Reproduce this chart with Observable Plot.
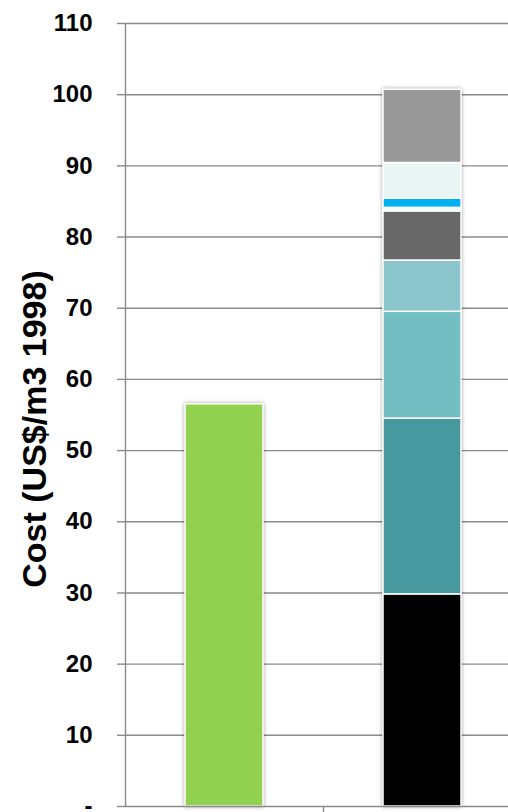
<!DOCTYPE html>
<html>
<head>
<meta charset="utf-8">
<script src="https://cdn.jsdelivr.net/npm/d3@7"></script>
<script src="https://cdn.jsdelivr.net/npm/@observablehq/plot@0.6"></script>
<style>
  html, body { margin: 0; padding: 0; background: #fff; }
  #chart svg { display: block; }
  #chart g[aria-label="bar"] { filter: drop-shadow(0px 0px 2px rgba(0,0,0,0.35)); }
</style>
</head>
<body>
<div id="chart"></div>
<script>
// Categories (unlabelled in the reference)
const categories = ["Option 1", "Option 2"];

// Option 1: single bar
const option1Value = 56.5;

// Option 2: stacked components, bottom to top
const components = ["Component 1", "Component 2", "Component 3", "Component 4", "Component 5", "Component 6", "Component 7", "Component 8", "Component 9"];
const componentValues = [29.8, 24.7, 15.0, 7.2, 6.9, 0.5, 1.3, 5.0, 10.3];
const componentColors = ["#000000", "#47999f", "#72bec3", "#8cc6cd", "#686868", "#f2fafb", "#00b0f0", "#e9f4f5", "#999999"];
const option1Color = "#92d050";

const yTicks = [0, 10, 20, 30, 40, 50, 60, 70, 80, 90, 100, 110];
const yLabel = "Cost (US$/m3 1998)";

const rows = [{cat: categories[0], comp: "Total", value: option1Value, color: option1Color}]
  .concat(components.map((c, i) => ({cat: categories[1], comp: c, value: componentValues[i], color: componentColors[i]})));

const gray = "#8a8a8a";
const font = "Liberation Sans, Arial, sans-serif";

const chart = Plot.plot({
  width: 508,
  height: 812,
  marginLeft: 125,
  marginRight: 0,
  marginTop: 23,
  marginBottom: 6,
  style: {fontFamily: font, color: "#000", background: "#fff"},
  x: {type: "band", domain: categories, range: [125, 521], paddingInner: 0.606, paddingOuter: 0.303, align: 0.5},
  y: {domain: [0, 110]},
  marks: [
    Plot.gridY(yTicks.filter(d => d > 0), {stroke: gray, strokeOpacity: 1, strokeWidth: 1.4}),
    Plot.axisY({
      ticks: yTicks,
      tickFormat: d => d === 0 ? "-" : String(d),
      tickSize: 8,
      tickPadding: 25,
      stroke: gray,
      strokeWidth: 1.4,
      fontSize: 24,
      fontWeight: "bold",
      fill: "#000",
      label: null
    }),
    Plot.axisX({ticks: [categories[0]], tickSize: 7, tickFormat: () => "", dx: 99, stroke: gray, strokeWidth: 1.4, label: null}),
    Plot.barY(rows, {x: "cat", y: "value", fill: "color", stroke: "#fff", strokeWidth: 1.5}),
    Plot.ruleY([0], {stroke: gray, strokeWidth: 1.4}),
    Plot.ruleX([categories[0]], {x: d => d, dx: -99, y1: 0, y2: 110, stroke: gray, strokeWidth: 1.4}),
    Plot.text([yLabel], {
      text: d => d, frameAnchor: "left", rotate: -90, dx: -90, dy: 14,
      fontSize: 34, fontWeight: "bold", fill: "#000", textAnchor: "middle"
    })
  ]
});
document.getElementById("chart").appendChild(chart);
</script>
</body>
</html>
